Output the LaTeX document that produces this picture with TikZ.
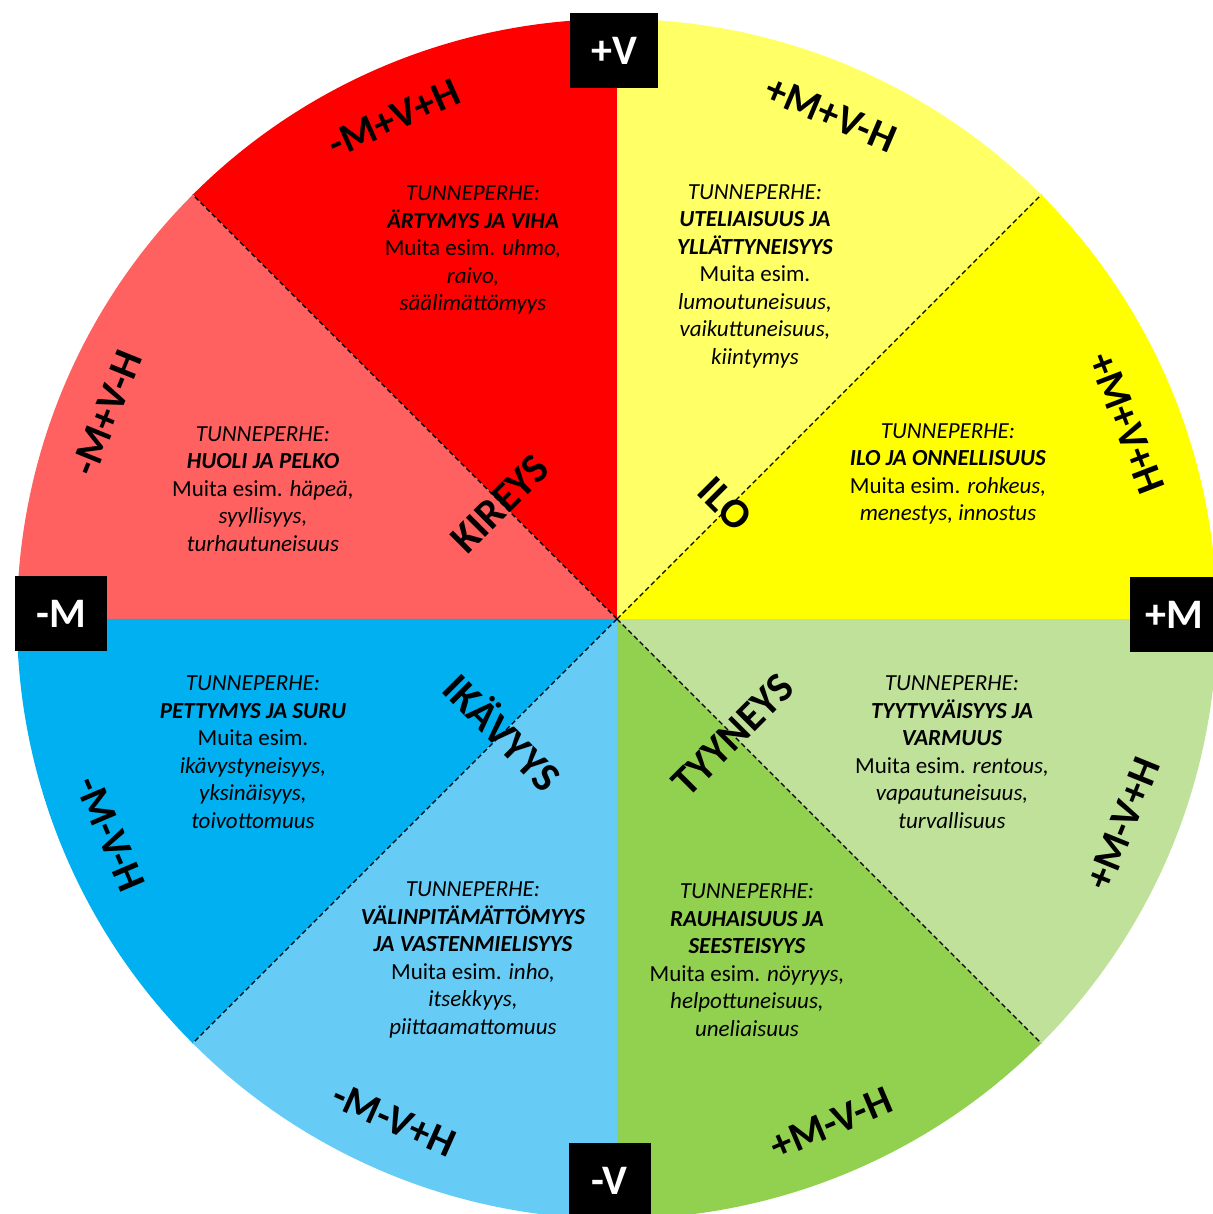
\documentclass[tikz,border=0pt]{standalone}
\usepackage{fontspec}
\setmainfont{Carlito}
\definecolor{kireysA}{HTML}{FF0000}
\definecolor{kireysB}{HTML}{FF6161}
\definecolor{iloA}{HTML}{FFFF66}
\definecolor{iloB}{HTML}{FFFF00}
\definecolor{ikavyysA}{HTML}{00B0F0}
\definecolor{ikavyysB}{HTML}{66CCF5}
\definecolor{tyyneysA}{HTML}{92D050}
\definecolor{tyyneysB}{HTML}{C0E19A}
\tikzset{
  divider/.style={black,dashed,line width=1.2pt,dash pattern=on 5pt off 3pt},
  axisbox/.style={fill=black,text=white,inner sep=0pt,minimum width=88pt,minimum height=75pt,font=\fontsize{42}{50}\selectfont\bfseries},
  axislabel/.style={inner sep=0pt,font=\fontsize{41}{48}\selectfont\bfseries},
  moodlabel/.style={inner sep=0pt,font=\fontsize{42}{48}\selectfont\bfseries},
  familytext/.style={align=center,inner sep=0pt,font=\fontsize{23}{27.5}\selectfont}
}
\begin{document}
\begin{tikzpicture}[x=1pt,y=1pt]
            \useasboundingbox (-617,-595) rectangle (595,619);
            \coordinate (o) at (0,0);
            \begin{scope}
                \fill[kireysA] (o)--(90:600) arc[start angle=90,end angle=135,radius=600]--cycle;
                \fill[kireysB] (o)--(135:600) arc[start angle=135,end angle=180,radius=600]--cycle;
                \fill[ikavyysA] (o)--(180:600) arc[start angle=180,end angle=225,radius=600]--cycle;
                \fill[ikavyysB] (o)--(225:600) arc[start angle=225,end angle=270,radius=600]--cycle;
                \fill[tyyneysA] (o)--(270:600) arc[start angle=270,end angle=315,radius=600]--cycle;
                \fill[tyyneysB] (o)--(315:600) arc[start angle=315,end angle=360,radius=600]--cycle;
                \fill[iloB] (o)--(0:600) arc[start angle=0,end angle=45,radius=600]--cycle;
                \fill[iloA] (o)--(45:600) arc[start angle=45,end angle=90,radius=600]--cycle;
            \end{scope}
            \begin{scope}
                \coordinate (nw) at (135:600);
                \coordinate (ne) at (45:600);
                \coordinate (sw) at (225:600);
                \coordinate (se) at (315:600);
                \draw[divider] (o)--(nw);
                \draw[divider] (o)--(ne);
                \draw[divider] (o)--(sw);
                \draw[divider] (o)--(se);
            \end{scope}
            \begin{scope}
                \node[axislabel,rotate=24] (mvh1) at (114:548) {-M+V+H};
                \node[axislabel,rotate=-23] (mvh2) at (67:548) {+M+V-H};
                \node[axislabel,rotate=-69] (mvh3) at (21:546) {+M+V+H};
                \node[axislabel,rotate=68] (mvh4) at (158:550) {-M+V-H};
                \node[axislabel,rotate=-67] (mvh5) at (203:550) {-M-V-H};
                \node[axislabel,rotate=-24] (mvh6) at (246:548) {-M-V+H};
                \node[axislabel,rotate=23] (mvh7) at (293:548) {+M-V-H};
                \node[axislabel,rotate=68] (mvh8) at (338:546) {+M-V+H};
            \end{scope}
            \begin{scope}
                \node[moodlabel,rotate=45] (kireys) at (-117,115) {KIREYS};
                \node[moodlabel,rotate=-45] (ilo) at (108,115) {ILO};
                \node[moodlabel,rotate=-45] (ikavyys) at (-113,-112) {IKÄVYYS};
                \node[moodlabel,rotate=45] (tyyneys) at (116,-116) {TYYNEYS};
            \end{scope}
            \begin{scope}
                \node[familytext] (viha) at (-144,369) {\textit{TUNNEPERHE:}\\\textbf{\textit{ÄRTYMYS JA VIHA}}\\Muita esim. \textit{uhmo,}\\\textit{raivo,}\\\textit{säälimättömyys}};
                \node[familytext] (pelko) at (-354,130) {\textit{TUNNEPERHE:}\\\textbf{\textit{HUOLI JA PELKO}}\\Muita esim. \textit{häpeä,}\\\textit{syyllisyys,}\\\textit{turhautuneisuus}};
                \node[familytext] (uteliaisuus) at (138,343) {\textit{TUNNEPERHE:}\\\textbf{\textit{UTELIAISUUS JA}}\\\textbf{\textit{YLLÄTTYNEISYYS}}\\Muita esim.\\\textit{lumoutuneisuus,}\\\textit{vaikuttuneisuus,}\\\textit{kiintymys}};
                \node[familytext] (onnellisuus) at (331,145) {\textit{TUNNEPERHE:}\\\textbf{\textit{ILO JA ONNELLISUUS}}\\Muita esim. \textit{rohkeus,}\\\textit{menestys, innostus}};
                \node[familytext] (suru) at (-364,-133) {\textit{TUNNEPERHE:}\\\textbf{\textit{PETTYMYS JA SURU}}\\Muita esim.\\\textit{ikävystyneisyys,}\\\textit{yksinäisyys,}\\\textit{toivottomuus}};
                \node[familytext] (varmuus) at (335,-133) {\textit{TUNNEPERHE:}\\\textbf{\textit{TYYTYVÄISYYS JA}}\\\textbf{\textit{VARMUUS}}\\Muita esim. \textit{rentous,}\\\textit{vapautuneisuus,}\\\textit{turvallisuus}};
                \node[familytext] (vastenmielisyys) at (-144,-341) {\textit{TUNNEPERHE:}\\\textbf{\textit{VÄLINPITÄMÄTTÖMYYS}}\\\textbf{\textit{JA VASTENMIELISYYS}}\\Muita esim. \textit{inho,}\\\textit{itsekkyys,}\\\textit{piittaamattomuus}};
                \node[familytext] (seesteisyys) at (130,-341) {\textit{TUNNEPERHE:}\\\textbf{\textit{RAUHAISUUS JA}}\\\textbf{\textit{SEESTEISYYS}}\\Muita esim. \textit{nöyryys,}\\\textit{helpottuneisuus,}\\\textit{uneliaisuus}};
            \end{scope}
            \begin{scope}
                \node[axisbox] (plusv) at (-3,568.5) {+V};
                \node[axisbox,minimum width=92pt] (minusm) at (-556,5.5) {-M};
                \node[axisbox] (plusm) at (557,4) {+M};
                \node[axisbox,minimum width=82pt] (minusv) at (-7.5,-561.5) {-V};
            \end{scope}
        \end{tikzpicture}
\end{document}
